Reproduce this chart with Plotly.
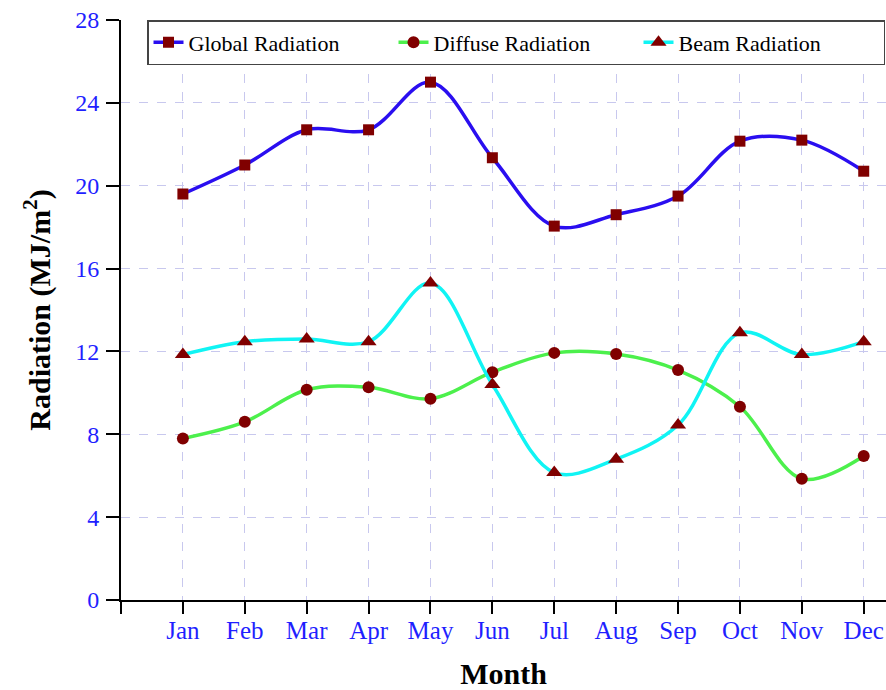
import plotly.graph_objects as go

# Monthly radiation series (MJ/m^2)
months = ["Jan", "Feb", "Mar", "Apr", "May", "Jun",
          "Jul", "Aug", "Sep", "Oct", "Nov", "Dec"]
global_rad = [19.6, 21.0, 22.7, 22.7, 25.0, 21.35, 18.05, 18.6, 19.5, 22.15, 22.2, 20.7]
diffuse_rad = [7.8, 8.6, 10.15, 10.27, 9.72, 11.0, 11.93, 11.88, 11.1, 9.33, 5.85, 6.95]
beam_rad = [11.85, 12.47, 12.6, 12.47, 15.3, 10.4, 6.15, 6.8, 8.45, 12.9, 11.85, 12.47]

y_ticks = [0, 4, 8, 12, 16, 20, 24, 28]

x_pos = list(range(1, len(months) + 1))
marker_color = "#800000"
serif = "Liberation Serif"

series = [
    ("Global Radiation", global_rad, "#2a0ef0", "square", 11),
    ("Diffuse Radiation", diffuse_rad, "#4cf04c", "circle", 12),
    ("Beam Radiation", beam_rad, "#10f4f4", "triangle-up", 14),
]

fig = go.Figure()
for name, vals, color, symbol, size in series:
    fig.add_trace(go.Scatter(
        x=x_pos, y=vals, name=name, mode="lines+markers",
        line=dict(color=color, width=3.5, shape="spline", smoothing=1),
        marker=dict(symbol=symbol, size=size, color=marker_color,
                    line=dict(width=0)),
    ))

grid_color = "#c8c8ee"

fig.update_layout(
    width=886, height=690,
    margin=dict(l=121, r=0, t=20, b=90),
    paper_bgcolor="white", plot_bgcolor="white",
    font=dict(family=serif, color="black"),
    showlegend=True,
    legend=dict(
        orientation="h", x=0.034, y=1.0, xanchor="left", yanchor="top",
        bgcolor="white", bordercolor="#444444", borderwidth=1.5,
        font=dict(family=serif, size=22, color="black"),
        entrywidth=200, entrywidthmode="pixels",
        itemwidth=30, tracegroupgap=0,
    ),
    xaxis=dict(
        range=[0, 12.36],
        tickmode="array", tickvals=[0] + x_pos, ticktext=[""] + months,
        ticks="outside", ticklen=12, tickwidth=2, tickcolor="black",
        showline=True, linecolor="black", linewidth=2,
        showgrid=True, gridcolor=grid_color, griddash="dash", gridwidth=1,
        zeroline=False, ticklabelstandoff=-5,
        tickfont=dict(family=serif, size=25, color="#1f1fff"),
        title=dict(text="<b>Month</b>", font=dict(family=serif, size=30, color="black"),
                   standoff=20),
    ),
    yaxis=dict(
        range=[0, 28],
        tickmode="array", tickvals=y_ticks,
        ticks="outside", ticklen=13, tickwidth=2, tickcolor="black",
        showline=True, linecolor="black", linewidth=2,
        showgrid=True, gridcolor=grid_color, griddash="dash", gridwidth=1,
        zeroline=False, ticklabelstandoff=2,
        tickfont=dict(family=serif, size=24, color="#1f1fff"),
        title=dict(text="<b>Radiation (MJ/m<sup>2</sup>)</b>",
                   font=dict(family=serif, size=30, color="black"),
                   standoff=16),
    ),
)

fig.write_html("out.html")
